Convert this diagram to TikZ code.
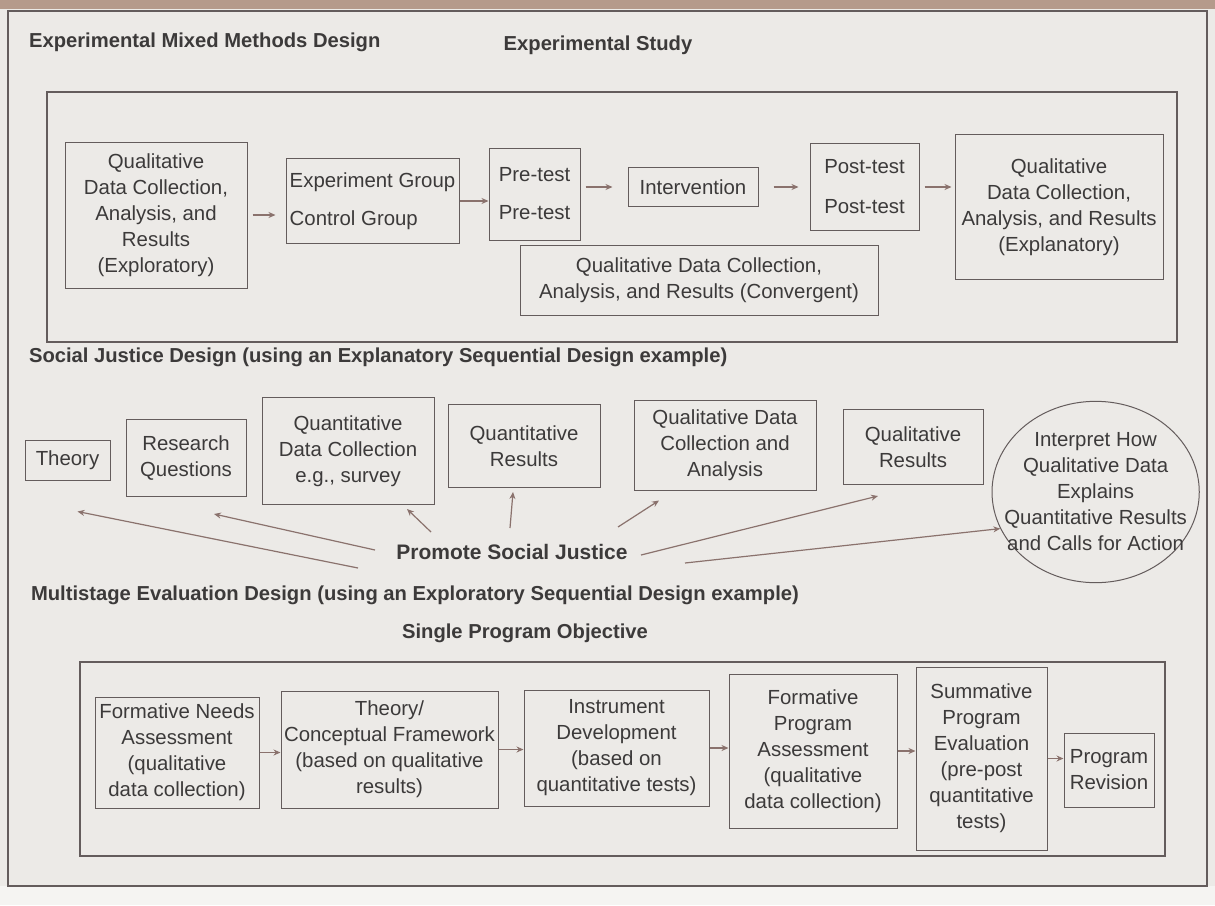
\documentclass[tikz,border=0pt]{standalone}
\usepackage{fontspec}
\setmainfont{Liberation Sans}
\usetikzlibrary{arrows.meta,positioning,shapes.geometric}

\definecolor{paper}{HTML}{ECEAE7}
\definecolor{edge}{HTML}{B59A8B}
\definecolor{ink}{HTML}{3C3A3A}
\definecolor{rule}{HTML}{645C5C}
\definecolor{pointer}{HTML}{8A726D}

\begin{document}
\begin{tikzpicture}[
    x=0.5pt, y=-0.5pt,
    box/.style={draw=rule, line width=0.5pt, align=center, inner sep=1pt,
                font=\fontsize{10.2}{13}\selectfont, text=ink},
    heading/.style={font=\bfseries\fontsize{10.1}{12}\selectfont, text=ink},
    arr/.style={-{Stealth[length=3.5pt, width=3pt]}, draw=pointer, line width=0.6pt},
    panel/.style={draw=rule, line width=0.55pt},
]
\useasboundingbox (0,0) rectangle (1215,905);
% page and outer frame
\fill[paper] (0,0) rectangle (1215,905);
\fill[paper!55!white] (0,886) rectangle (1215,905);
\fill[edge] (0,0) rectangle (1215,9);
\draw[panel, line width=0.8pt] (8,11) rectangle (1207,886);

% experimental design
\node[heading, anchor=west] (emmd) at (22,42) {Experimental Mixed Methods Design};
\node[heading] (study) at (598,45) {Experimental Study};
\draw[panel] (47,92) rectangle (1177,342);

\node[box, minimum width=91pt, minimum height=73pt] (qualExp) at (156,215)
    {Qualitative\\Data Collection,\\Analysis, and\\Results\\(Exploratory)};
\node[box, align=left, minimum width=86.5pt, minimum height=42.5pt,
      right=19pt of qualExp, yshift=7pt] (groups) {Experiment Group\\[6pt]Control Group};
\node[box, minimum width=45.5pt, minimum height=46pt,
      right=14.5pt of groups, yshift=3.5pt] (pre) {Pre-test\\[6pt]Pre-test};
\node[box, minimum width=65pt, minimum height=19.5pt,
      right=23.5pt of pre, yshift=3.5pt] (interv) {Intervention};
\node[box, minimum width=54.5pt, minimum height=43.5pt,
      right=25.5pt of interv] (post) {Post-test\\[7pt]Post-test};
\node[box, minimum width=104pt, minimum height=72.5pt,
      right=17.5pt of post, yshift=-10pt] (qualExpl)
    {Qualitative\\Data Collection,\\Analysis, and Results\\(Explanatory)};
\node[box, minimum width=179pt, minimum height=35pt,
      below=19pt of interv, xshift=3pt] (qualConv)
    {Qualitative Data Collection,\\Analysis, and Results (Convergent)};

\draw[arr, shorten <=2.5pt, shorten >=5pt] (qualExp.east) -- (qualExp.east -| groups.west);
\draw[arr] (groups.east) -- (groups.east -| pre.west);
\draw[arr, shorten <=2.5pt, shorten >=7.5pt] (pre.east |- interv) -- (interv.west);
\draw[arr, shorten <=7.5pt, shorten >=5.5pt] (interv.east) -- (interv.east -| post.west);
\draw[arr, shorten <=2.5pt, shorten >=1.5pt] (post.east) -- (post.east -| qualExpl.west);

% social justice design
\node[heading, anchor=west] (sjd) at (22,357)
    {Social Justice Design (using an Explanatory Sequential Design example)};

\node[box, minimum width=42.5pt, minimum height=20pt] (theory) at (67.5,460) {Theory};
\node[box, minimum width=60pt, minimum height=38.5pt,
      right=7.5pt of theory, yshift=1pt] (rq) {Research\\Questions};
\node[box, minimum width=86pt, minimum height=53.5pt,
      right=7.5pt of rq, yshift=3.5pt] (qdc) {Quantitative\\Data Collection\\e.g., survey};
\node[box, minimum width=76pt, minimum height=41.5pt,
      right=6.5pt of qdc, yshift=2.5pt] (qres) {Quantitative\\Results};
\node[box, minimum width=91pt, minimum height=45pt,
      right=16.5pt of qres, yshift=0.5pt] (qldc) {Qualitative Data\\Collection and\\Analysis};
\node[box, minimum width=70pt, minimum height=37.5pt,
      right=13pt of qldc, yshift=-1pt] (qlres) {Qualitative\\Results};
\node[box, ellipse, inner xsep=-9pt, inner ysep=2.5pt,
      right=4pt of qlres, yshift=-22.5pt] (interp)
    {Interpret How\\Qualitative Data\\Explains\\Quantitative Results\\and Calls for Action};

\node[heading, font=\bfseries\fontsize{10.5}{12}\selectfont] (psj) at (512,552) {Promote Social Justice};

\draw[arr] ([shift={(-154,16)}]psj.center) -- ([shift={(10,31)}]theory.south);
\draw[arr] ([shift={(-137,-2)}]psj.center) -- ([shift={(28,17)}]rq.south);
\draw[arr] ([shift={(-81,-20)}]psj.center) -- ([shift={(59,4)}]qdc.south);
\draw[arr] ([shift={(-2,-24)}]psj.center) -- ([shift={(-11,4)}]qres.south);
\draw[arr] ([shift={(106,-25)}]psj.center) -- ([shift={(-66,10)}]qldc.south);
\draw[arr] ([shift={(129,3)}]psj.center) -- ([shift={(-35,11)}]qlres.south);
\draw[arr] ([shift={(173,11)}]psj.center) -- (interp.201);

% multistage evaluation design
\node[heading, anchor=west] (med) at (24,595)
    {Multistage Evaluation Design (using an Exploratory Sequential Design example)};
\node[heading] (objective) at (525,633) {Single Program Objective};
\draw[panel] (80,662) rectangle (1165,856);

\node[box, minimum width=82pt, minimum height=55.5pt] (fna) at (177,752.5)
    {Formative Needs\\Assessment\\(qualitative\\data collection)};
\node[box, minimum width=108.5pt, minimum height=58.5pt,
      right=10.5pt of fna, yshift=1.5pt] (tcf)
    {Theory/\\Conceptual Framework\\(based on qualitative\\results)};
\node[box, minimum width=92.5pt, minimum height=58pt,
      right=12.5pt of tcf, yshift=0.75pt] (instr)
    {Instrument\\Development\\(based on\\quantitative tests)};
\node[box, minimum width=84pt, minimum height=77pt,
      right=9.5pt of instr, yshift=-1.5pt] (fpa)
    {Formative\\Program\\Assessment\\(qualitative\\data collection)};
\node[box, minimum width=65.5pt, minimum height=91.5pt,
      right=9pt of fpa, yshift=-3.75pt] (spe)
    {Summative\\Program\\Evaluation\\(pre-post\\quantitative\\tests)};
\node[box, minimum width=45pt, minimum height=37pt,
      right=8pt of spe, yshift=-5.75pt] (prev) {Program\\Revision};

\draw[arr] (fna.east) -- (fna.east -| tcf.west);
\draw[arr] (tcf.east) -- (tcf.east -| instr.west);
\draw[arr] (instr.east) -- (instr.east -| fpa.west);
\draw[arr] (fpa.east) -- (fpa.east -| spe.west);
\draw[arr] (spe.east) -- (spe.east -| prev.west);
\end{tikzpicture}
\end{document}
